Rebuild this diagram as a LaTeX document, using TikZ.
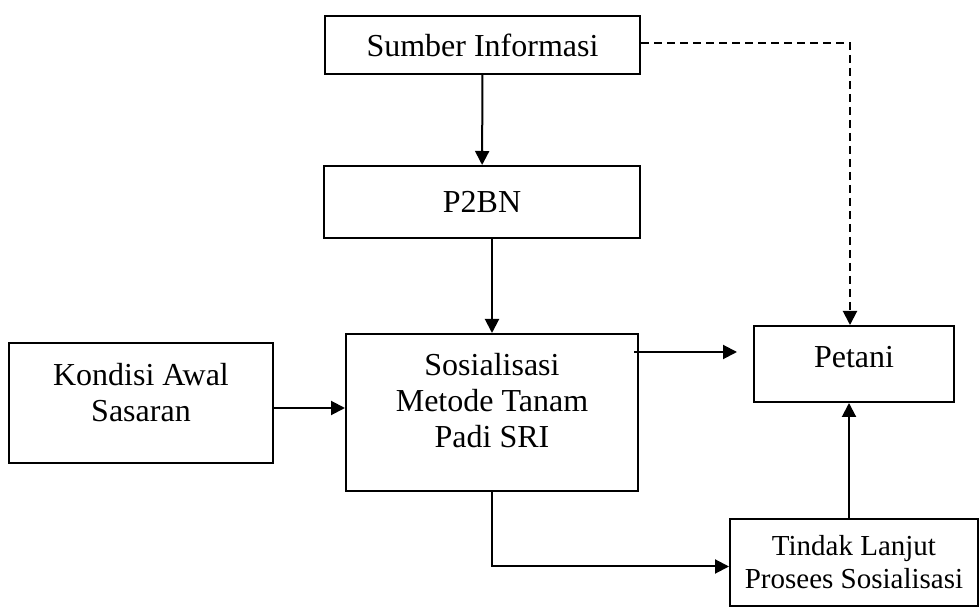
\documentclass[tikz,border=0pt]{standalone}
\usepackage{fontspec}
\setmainfont{Liberation Serif}
\usetikzlibrary{arrows.meta}
\begin{document}
\begin{tikzpicture}[x=0.5pt, y=-0.5pt, line width=1pt, >={Triangle[length=7pt,width=7pt]},
	box/.style={draw, rectangle, inner sep=0pt, align=center, font=\fontsize{16pt}{18pt}\selectfont}]
	\useasboundingbox (0,0) rectangle (980,608);
	\path
	(482.5,45) coordinate (S)
	(482,202) coordinate (P)
	(492,412.5) coordinate (M)
	(141,403) coordinate (K)
	(854,364) coordinate (T)
	(854,562.5) coordinate (L)
	;
	\node[box, minimum width=157.5pt, minimum height=29pt] (sumber) at (S) {Sumber Informasi};
	\node[box, minimum width=158pt, minimum height=36pt] (p2bn) at (P) {P2BN};
	\node[box, minimum width=146pt, minimum height=78.5pt, text depth=12.5pt] (sos) at (M) {Sosialisasi\\Metode Tanam\\Padi SRI};
	\node[box, minimum width=132pt, minimum height=60pt, text depth=11pt] (kondisi) at (K) {Kondisi Awal\\Sasaran};
	\node[box, minimum width=100pt, minimum height=38pt, text depth=7.5pt] (petani) at (T) {Petani};
	\node[box, minimum width=124pt, minimum height=43.5pt, font=\fontsize{14.5pt}{16.5pt}\selectfont] (tindak) at (L) {Tindak Lanjut\\Prosees Sosialisasi};
	\draw[->] (sumber) -- (p2bn);
	\draw[->] (p2bn.south -| sos.north) -- (sos.north);
	\draw[->] ([yshift=-2.5pt]kondisi.east) -- ([yshift=-2.5pt]kondisi.east -| sos.west);
	\draw[->] ([xshift=-2.5pt,yshift=6pt]sos.east |- petani.west) -- ([xshift=-8pt,yshift=6pt]petani.west);
	\draw[->] (sos.south) |- ([yshift=-2pt]tindak.west);
	\draw[->] ([xshift=-2.5pt]tindak.north) -- ([xshift=-2.5pt]petani.south);
	\draw[->, dash pattern=on 4pt off 2.5pt] ([yshift=1pt]sumber.east) -| ([xshift=-2pt]petani.north);
\end{tikzpicture}
\end{document}
